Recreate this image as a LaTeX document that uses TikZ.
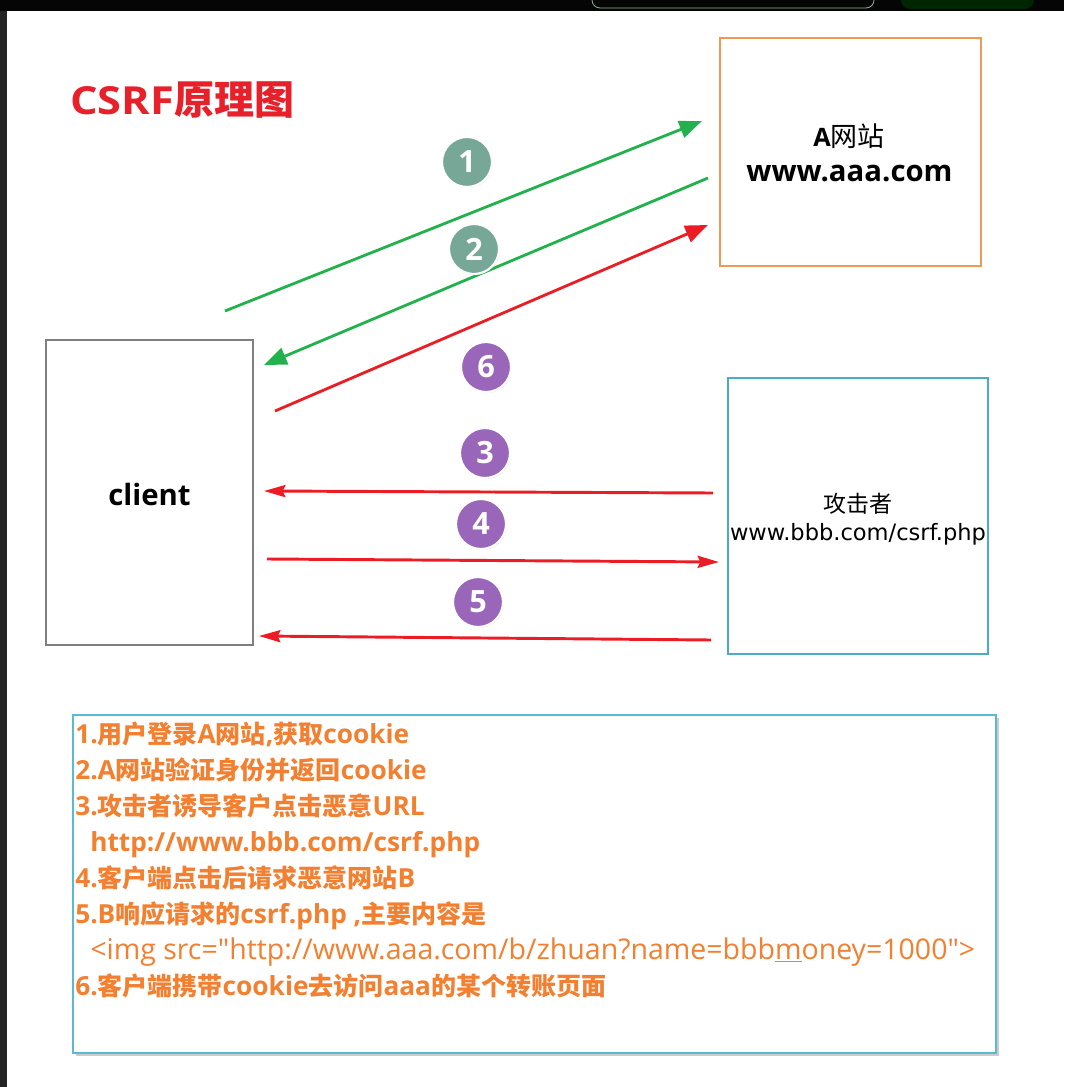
\documentclass[tikz,border=0pt]{standalone}
\usepackage{fontspec}
\setmainfont{Open Sans}
\newfontfamily\cjk{Noto Sans CJK SC}
\newfontfamily\latw{Open Sans}[Scale=1.05]
\newfontfamily\latr{Open Sans}[Scale=1.14]
\newfontfamily\latx{Open Sans}[FakeStretch=1.12]
\newfontfamily\dvs{DejaVu Sans}
\usetikzlibrary{arrows.meta,shadows}
\definecolor{titlered}{HTML}{E8202A}
\definecolor{arrgreen}{HTML}{22B14C}
\definecolor{arrred}{HTML}{EC1C24}
\definecolor{numgreen}{HTML}{76A797}
\definecolor{numpurple}{HTML}{9966BA}
\definecolor{boxorange}{HTML}{EE9A55}
\definecolor{boxgray}{HTML}{7F7F7F}
\definecolor{boxblue}{HTML}{4BACC6}
\definecolor{notesblue}{HTML}{5BB8D6}
\definecolor{notetext}{HTML}{F28030}
\definecolor{topdark}{HTML}{050505}
\definecolor{leftdark}{HTML}{242424}
\newcommand\zh[1]{{\cjk #1}}
\begin{document}
\begin{tikzpicture}[x=0.75pt,y=-0.75pt,
  box/.style={draw, rectangle, line width=2.1pt, inner sep=0pt},
  num/.style={circle, minimum size=37.5pt, inner sep=0pt, draw=white, line width=1.6pt,
    text=white, font=\bfseries\fontsize{23pt}{23pt}\selectfont,
    drop shadow={shadow xshift=0.6pt, shadow yshift=-0.8pt, fill=black!30, opacity=0.45}},
  garrow/.style={draw=arrgreen, line width=2.1pt, -{Triangle[length=17pt,width=13pt]}},
  rarrow/.style={draw=arrred, line width=2.1pt, -{Triangle[length=17pt,width=13pt]}},
  harrow/.style={draw=arrred, line width=2.2pt, -{Stealth[length=16pt,width=9pt,inset=2pt]}},
  note/.style={anchor=base west, inner sep=0pt, text=notetext,
    font=\fontsize{18.75pt}{21pt}\selectfont\latw\bfseries},
  lbl/.style={inner sep=0pt, anchor=base}
]
\useasboundingbox (0,0) rectangle (1064,1087);
\fill[white] (0,0) rectangle (1064,1087);
% screenshot frame
\fill[topdark] (0,0) rectangle (1064,11);
\fill[leftdark] (0,11) rectangle (7,1087);
\draw[black!75!green!40, line width=0.6pt, rounded corners=6pt] (592,-10) rectangle (874,8);
\fill[black!85!green, rounded corners=7pt] (901,-10) rectangle (1034,9);

% title
\node[anchor=base west, inner sep=0pt, text=titlered,
  font=\fontsize{29pt}{31pt}\selectfont\bfseries] (title) at (70,115)
  {{\latx CSRF}{\cjk\fontsize{30pt}{31pt}\selectfont 原理图}};

% boxes
\node[box, draw=boxorange, minimum width=195.75pt, minimum height=171pt] (siteA) at (850.5,152) {};
\node[box, draw=boxgray, minimum width=155.25pt, minimum height=228.75pt] (client) at (149.5,492.5) {};
\node[box, draw=boxblue, minimum width=195pt, minimum height=207pt] (attacker) at (858,516) {};

% box texts
\node[lbl, font=\fontsize{19pt}{20pt}\selectfont] (siteAname) at (849,147)
  {\textbf{A}{\cjk\fontsize{20.25pt}{22pt}\selectfont 网站}};
\node[lbl, font=\fontsize{22pt}{24pt}\selectfont\bfseries] (siteAurl) at (849.5,182) {www.aaa.com};
\node[lbl, font=\fontsize{22pt}{24pt}\selectfont\bfseries] (clientname) at (149.5,505) {client};
\node[lbl, font=\fontsize{17.25pt}{19pt}\selectfont\cjk] (attname) at (858,512) {攻击者};
\node[lbl, font=\fontsize{16.9pt}{18pt}\selectfont\dvs] (atturl) at (858,540) {www.bbb.com/csrf.php};

% arrow end points
\coordinate (a1s) at (225,311);  \coordinate (a1e) at (702,121);
\coordinate (a2s) at (708,178);  \coordinate (a2e) at (264,365);
\coordinate (a6s) at (275,411);  \coordinate (a6e) at (708,225);
\coordinate (a3s) at (713,493);  \coordinate (a3e) at (264,491);
\coordinate (a4s) at (267,559);  \coordinate (a4e) at (719,562);
\coordinate (a5s) at (711,640);  \coordinate (a5e) at (259,636);

\draw[garrow] (a1s) -- (a1e);
\draw[garrow] (a2s) -- (a2e);
\draw[rarrow] (a6s) -- (a6e);
\draw[harrow] (a3s) -- (a3e);
\draw[harrow] (a4s) -- (a4e);
\draw[harrow] (a5s) -- (a5e);

% number badges
\node[num, fill=numgreen] (n1) at (467,162) {1};
\node[num, fill=numgreen] (n2) at (474,249) {2};
\node[num, fill=numpurple] (n6) at (486,367) {6};
\node[num, fill=numpurple] (n3) at (485,453) {3};
\node[num, fill=numpurple] (n4) at (481,524) {4};
\node[num, fill=numpurple] (n5) at (478,602) {5};

% notes box
\fill[black!20] (76,718) rectangle (999,1056);
\node[box, draw=notesblue, fill=white, minimum width=692.25pt, minimum height=253.5pt] (notes) at (534.5,884) {};

\node[note] (t1) at (75,743) {1.\zh{用户登录}A\zh{网站},\zh{获取}cookie};
\node[note] (t2) at (75,779) {2.A\zh{网站验证身份并返回}cookie};
\node[note] (t3) at (75,815.5) {3.\zh{攻击者诱导客户点击恶意}URL};
\node[note] (t4) at (90,851.5) {http://www.bbb.com/csrf.php};
\node[note] (t5) at (75,887.5) {4.\zh{客户端点击后请求恶意网站}B};
\node[note] (t6) at (75,923.5) {5.B\zh{响应请求的}csrf.php ,\zh{主要内容是}};
\node[note, font=\fontsize{18.75pt}{21pt}\selectfont\latr\mdseries] (t7) at (90,959.5)
  {<img src="http://www.aaa.com/b/zhuan?name=bbb\underline{m}oney=1000">};
\node[note] (t8) at (75,995.5) {6.\zh{客户端携带}cookie\zh{去访问}aaa\zh{的某个转账页面}};
\end{tikzpicture}
\end{document}
